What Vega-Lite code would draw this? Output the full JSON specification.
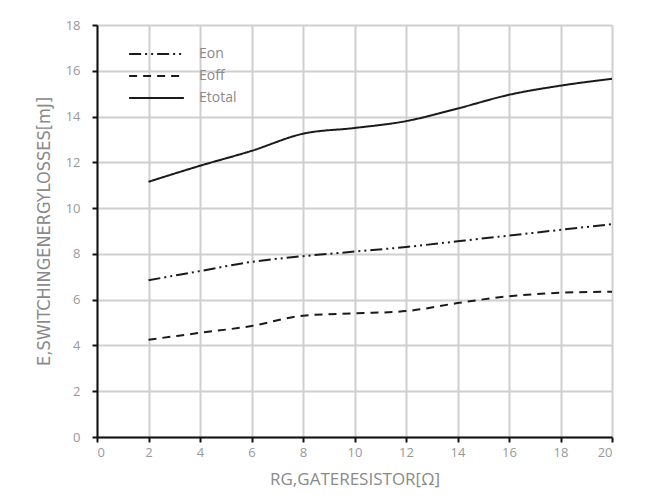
{
  "$schema": "https://vega.github.io/schema/vega-lite/v6.json",
  "width": 515,
  "height": 412,
  "autosize": {"type": "none"},
  "padding": {"left": 97, "top": 25, "right": 53, "bottom": 63},
  "background": "white",
  "config": {
    "view": {"stroke": null},
    "font": "Open Sans",
    "axis": {"labelColor": "#999999", "labelFontSize": 13, "titleColor": "#8a8a8a", "titleFontWeight": "normal", "domainColor": "#111111", "domainWidth": 2, "tickColor": "#111111", "tickWidth": 2, "tickSize": 5}
  },
  "data": {
    "values": [
      {"rg": 2, "series": "Eon", "e": 6.85},
      {"rg": 4, "series": "Eon", "e": 7.25},
      {"rg": 6, "series": "Eon", "e": 7.65},
      {"rg": 8, "series": "Eon", "e": 7.9},
      {"rg": 10, "series": "Eon", "e": 8.1},
      {"rg": 12, "series": "Eon", "e": 8.3},
      {"rg": 14, "series": "Eon", "e": 8.55},
      {"rg": 16, "series": "Eon", "e": 8.8},
      {"rg": 18, "series": "Eon", "e": 9.05},
      {"rg": 20, "series": "Eon", "e": 9.3},
      {"rg": 2, "series": "Eoff", "e": 4.25},
      {"rg": 4, "series": "Eoff", "e": 4.55},
      {"rg": 6, "series": "Eoff", "e": 4.85},
      {"rg": 8, "series": "Eoff", "e": 5.3},
      {"rg": 10, "series": "Eoff", "e": 5.4},
      {"rg": 12, "series": "Eoff", "e": 5.5},
      {"rg": 14, "series": "Eoff", "e": 5.85},
      {"rg": 16, "series": "Eoff", "e": 6.15},
      {"rg": 18, "series": "Eoff", "e": 6.3},
      {"rg": 20, "series": "Eoff", "e": 6.35},
      {"rg": 2, "series": "Etotal", "e": 11.15},
      {"rg": 4, "series": "Etotal", "e": 11.85},
      {"rg": 6, "series": "Etotal", "e": 12.5},
      {"rg": 8, "series": "Etotal", "e": 13.25},
      {"rg": 10, "series": "Etotal", "e": 13.5},
      {"rg": 12, "series": "Etotal", "e": 13.8},
      {"rg": 14, "series": "Etotal", "e": 14.35},
      {"rg": 16, "series": "Etotal", "e": 14.95},
      {"rg": 18, "series": "Etotal", "e": 15.35},
      {"rg": 20, "series": "Etotal", "e": 15.65}
    ]
  },
  "mark": {"type": "line", "interpolate": "monotone", "color": "#1a1a1a", "strokeWidth": 2},
  "encoding": {
    "x": {
      "field": "rg", "type": "quantitative",
      "scale": {"domain": [0, 20], "nice": false},
      "axis": {"values": [0,2,4,6,8,10,12,14,16,18,20], "grid": true, "gridColor": "#cfcfcf", "gridWidth": 2, "title": "RG,GATERESISTOR[Ω]", "titleFontSize": 17, "titlePadding": 12, "labelPadding": 4}
    },
    "y": {
      "field": "e", "type": "quantitative",
      "scale": {"domain": [0, 18], "nice": false},
      "axis": {"values": [0,2,4,6,8,10,12,14,16,18], "grid": true, "gridColor": "#cfcfcf", "gridWidth": 2, "title": "E,SWITCHINGENERGYLOSSES[mJ]", "titleFont": "DejaVu Sans Condensed", "titleFontSize": 18, "titlePadding": 12, "labelPadding": 12}
    },
    "strokeDash": {
      "field": "series", "type": "nominal",
      "scale": {"domain": ["Eon", "Eoff", "Etotal"], "range": [[12, 4, 2, 4, 2, 4], [8, 6], [1, 0]]},
      "legend": {"orient": "none", "legendX": 31, "legendY": 21, "title": null, "symbolType": "stroke", "symbolSize": 3000, "clipHeight": 16, "symbolStrokeColor": "#1a1a1a", "symbolStrokeWidth": 2, "labelColor": "#8a8a8a", "labelFontSize": 14, "rowPadding": 6, "labelOffset": 14}
    }
  }
}
